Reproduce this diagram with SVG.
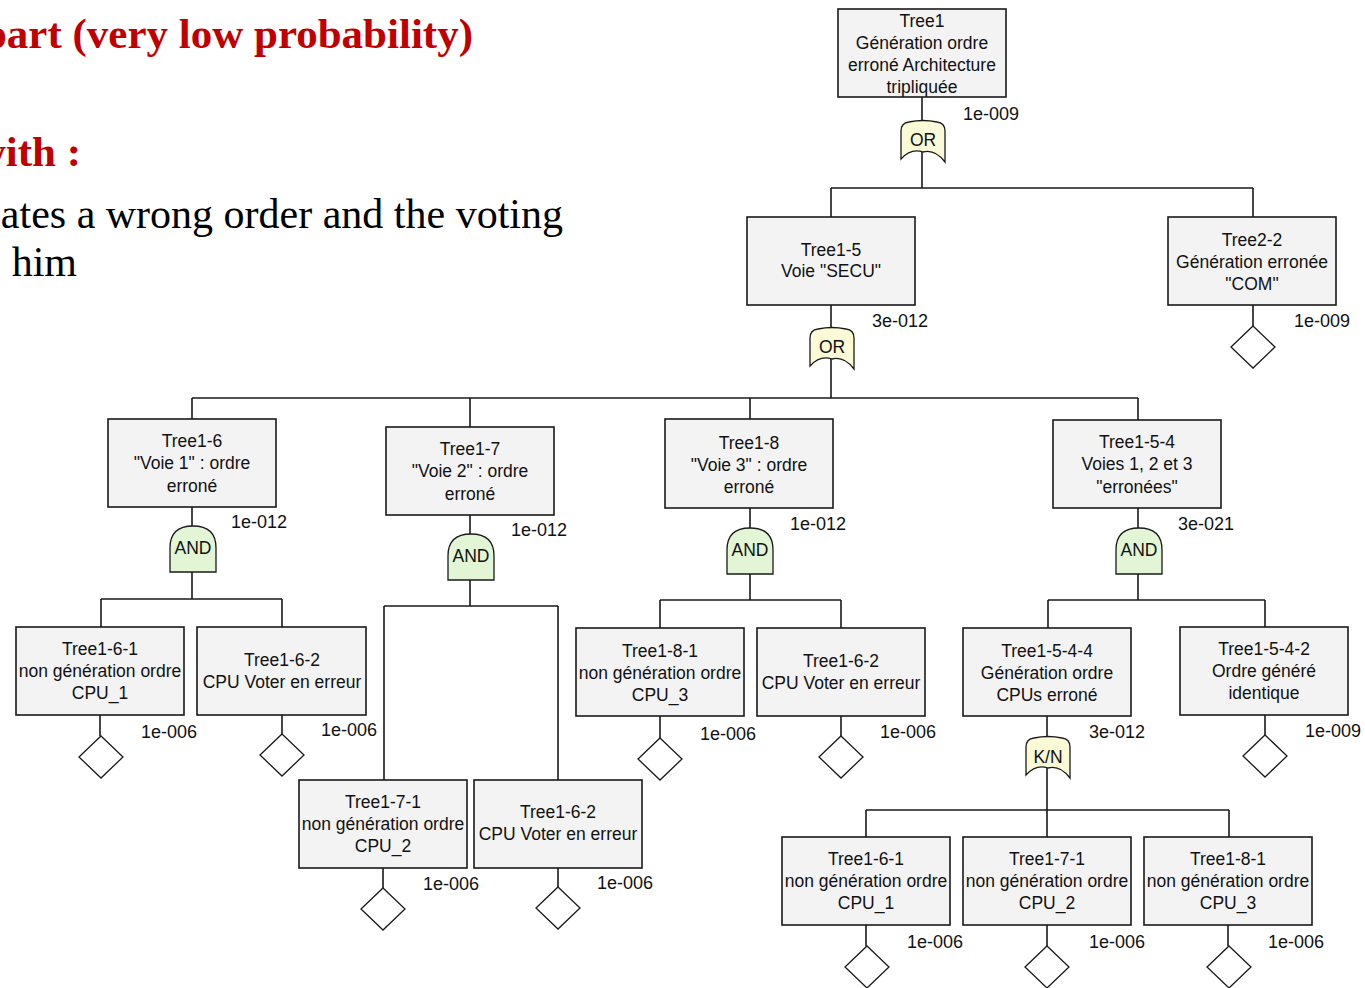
<svg xmlns="http://www.w3.org/2000/svg" width="1365" height="988" viewBox="0 0 1365 988">
<defs>
<style>
.bx{fill:#f3f3f3;stroke:#1a1a1a;stroke-width:1.6}
.t{font-family:"Liberation Sans",Arial,sans-serif;font-size:17.5px;fill:#111;text-anchor:middle}
.p{font-family:"Liberation Sans",Arial,sans-serif;font-size:18px;fill:#111}
.c{stroke:#1a1a1a;stroke-width:1.6;fill:none}
.or{fill:#fafad6;stroke:#1a1a1a;stroke-width:1.3}
.and{fill:#e2f5d4;stroke:#1a1a1a;stroke-width:1.3}
.dm{fill:#fff;stroke:#1a1a1a;stroke-width:1.3}
.h1{font-family:"Liberation Serif","Times New Roman",serif;font-size:43px;font-weight:bold;fill:#c00000}
.b1{font-family:"Liberation Serif","Times New Roman",serif;font-size:42px;fill:#000}
</style>
<path id="orG" d="M-22,38 L-22,10 Q-22,2 -14,1 Q0,-2 14,1 Q22,2 22,10 L22,41 Q12,28 0,31 Q-12,27 -22,38 Z"/>
<path id="andG" d="M-23,46 L-23,22 Q-23,0 0,0 Q23,0 23,22 L23,46 Z"/>
<path id="dia" d="M0,0 L22,21 L0,42 L-22,21 Z"/>
</defs>
<rect width="1365" height="988" fill="#fff"/>

<g id="slide-text">
<text class="h1" x="473" y="48" text-anchor="end">part (very low probability)</text>
<text class="h1" x="81" y="166" text-anchor="end">with :</text>
<text class="b1" x="563" y="228" text-anchor="end">ates a wrong order and the voting</text>
<text class="b1" x="77" y="276" text-anchor="end">him</text>
</g>

<g id="connectors" class="c">
<path d="M922,97 V188 M831,188 H1253 M831,188 V217 M1253,188 V217"/>
<path d="M831,305 V398 M192,398 H1138 M192,398 V419 M470,398 V427 M750,398 V419 M1138,398 V420"/>
<path d="M192,507 V599 M101,599 H282 M101,599 V627 M282,599 V627"/>
<path d="M470,515 V606 M384,606 H558 M384,606 V780 M558,606 V780"/>
<path d="M750,508 V600 M660,600 H841 M660,600 V628 M841,600 V628"/>
<path d="M1138,508 V600 M1048,600 H1265 M1048,600 V628 M1265,600 V627"/>
<path d="M1047,716 V810 M866,810 H1229 M866,810 V837 M1047,810 V837 M1229,810 V837"/>
<path d="M1253,305 V326 M100,715 V736 M282,715 V734 M383,868 V888 M558,868 V887 M660,716 V738 M841,716 V736 M1265,715 V735 M866,925 V946 M1047,925 V946 M1228,925 V946"/>
</g>

<g id="Tree1">
<rect class="bx" x="838" y="9" width="168" height="88"/>
<text class="t" x="922" y="27">Tree1</text>
<text class="t" x="922" y="49">Génération ordre</text>
<text class="t" x="922" y="71">erroné Architecture</text>
<text class="t" x="922" y="93">tripliquée</text>
<text class="p" x="963" y="120">1e-009</text>
<use href="#orG" class="or" x="923" y="121"/>
<text class="t" x="923" y="146">OR</text>
</g>

<g id="Tree1-5">
<rect class="bx" x="747" y="217" width="168" height="88"/>
<text class="t" x="831" y="256">Tree1-5</text>
<text class="t" x="831" y="277">Voie "SECU"</text>
<text class="p" x="872" y="327">3e-012</text>
<use href="#orG" class="or" x="832" y="328"/>
<text class="t" x="832" y="353">OR</text>
</g>

<g id="Tree2-2">
<rect class="bx" x="1168" y="217" width="168" height="88"/>
<text class="t" x="1252" y="246">Tree2-2</text>
<text class="t" x="1252" y="268">Génération erronée</text>
<text class="t" x="1252" y="290">"COM"</text>
<text class="p" x="1294" y="327">1e-009</text>
<use href="#dia" class="dm" x="1253" y="326"/>
</g>

<g id="Tree1-6">
<rect class="bx" x="108" y="419" width="168" height="88"/>
<text class="t" x="192" y="447">Tree1-6</text>
<text class="t" x="192" y="469">"Voie 1" : ordre</text>
<text class="t" x="192" y="492">erroné</text>
<text class="p" x="231" y="528">1e-012</text>
<use href="#andG" class="and" x="193" y="526"/>
<text class="t" x="193" y="554">AND</text>
</g>

<g id="Tree1-6-1">
<rect class="bx" x="16" y="627" width="168" height="88"/>
<text class="t" x="100" y="655">Tree1-6-1</text>
<text class="t" x="100" y="677">non génération ordre</text>
<text class="t" x="100" y="699">CPU_1</text>
<text class="p" x="141" y="738">1e-006</text>
<use href="#dia" class="dm" x="101" y="736"/>
</g>

<g id="Tree1-6-2">
<rect class="bx" x="197" y="627" width="169" height="88"/>
<text class="t" x="282" y="666">Tree1-6-2</text>
<text class="t" x="282" y="688">CPU Voter en erreur</text>
<text class="p" x="321" y="736">1e-006</text>
<use href="#dia" class="dm" x="282" y="734"/>
</g>

<g id="Tree1-7">
<rect class="bx" x="386" y="427" width="168" height="88"/>
<text class="t" x="470" y="455">Tree1-7</text>
<text class="t" x="470" y="477">"Voie 2" : ordre</text>
<text class="t" x="470" y="500">erroné</text>
<text class="p" x="511" y="536">1e-012</text>
<use href="#andG" class="and" x="471" y="534"/>
<text class="t" x="471" y="562">AND</text>
</g>

<g id="Tree1-7-1">
<rect class="bx" x="299" y="780" width="168" height="88"/>
<text class="t" x="383" y="808">Tree1-7-1</text>
<text class="t" x="383" y="830">non génération ordre</text>
<text class="t" x="383" y="852">CPU_2</text>
<text class="p" x="423" y="890">1e-006</text>
<use href="#dia" class="dm" x="383" y="888"/>
</g>

<g id="Tree1-6-2-b">
<rect class="bx" x="474" y="780" width="168" height="88"/>
<text class="t" x="558" y="818">Tree1-6-2</text>
<text class="t" x="558" y="840">CPU Voter en erreur</text>
<text class="p" x="597" y="889">1e-006</text>
<use href="#dia" class="dm" x="558" y="887"/>
</g>

<g id="Tree1-8">
<rect class="bx" x="665" y="419" width="168" height="89"/>
<text class="t" x="749" y="449">Tree1-8</text>
<text class="t" x="749" y="471">"Voie 3" : ordre</text>
<text class="t" x="749" y="493">erroné</text>
<text class="p" x="790" y="530">1e-012</text>
<use href="#andG" class="and" x="750" y="528"/>
<text class="t" x="750" y="556">AND</text>
</g>

<g id="Tree1-8-1">
<rect class="bx" x="576" y="628" width="168" height="88"/>
<text class="t" x="660" y="657">Tree1-8-1</text>
<text class="t" x="660" y="679">non génération ordre</text>
<text class="t" x="660" y="701">CPU_3</text>
<text class="p" x="700" y="740">1e-006</text>
<use href="#dia" class="dm" x="660" y="738"/>
</g>

<g id="Tree1-6-2-c">
<rect class="bx" x="757" y="628" width="168" height="88"/>
<text class="t" x="841" y="667">Tree1-6-2</text>
<text class="t" x="841" y="689">CPU Voter en erreur</text>
<text class="p" x="880" y="738">1e-006</text>
<use href="#dia" class="dm" x="841" y="736"/>
</g>

<g id="Tree1-5-4">
<rect class="bx" x="1053" y="420" width="168" height="88"/>
<text class="t" x="1137" y="448">Tree1-5-4</text>
<text class="t" x="1137" y="470">Voies 1, 2 et 3</text>
<text class="t" x="1137" y="493">"erronées"</text>
<text class="p" x="1178" y="530">3e-021</text>
<use href="#andG" class="and" x="1139" y="528"/>
<text class="t" x="1139" y="556">AND</text>
</g>

<g id="Tree1-5-4-4">
<rect class="bx" x="963" y="628" width="168" height="88"/>
<text class="t" x="1047" y="657">Tree1-5-4-4</text>
<text class="t" x="1047" y="679">Génération ordre</text>
<text class="t" x="1047" y="701">CPUs erroné</text>
<text class="p" x="1089" y="738">3e-012</text>
<use href="#orG" class="or" x="1048" y="737"/>
<text class="t" x="1048" y="763">K/N</text>
</g>

<g id="Tree1-5-4-2">
<rect class="bx" x="1180" y="627" width="168" height="88"/>
<text class="t" x="1264" y="655">Tree1-5-4-2</text>
<text class="t" x="1264" y="677">Ordre généré</text>
<text class="t" x="1264" y="699">identique</text>
<text class="p" x="1305" y="737">1e-009</text>
<use href="#dia" class="dm" x="1265" y="735"/>
</g>

<g id="Tree1-6-1-b">
<rect class="bx" x="782" y="837" width="168" height="88"/>
<text class="t" x="866" y="865">Tree1-6-1</text>
<text class="t" x="866" y="887">non génération ordre</text>
<text class="t" x="866" y="909">CPU_1</text>
<text class="p" x="907" y="948">1e-006</text>
<use href="#dia" class="dm" x="867" y="946"/>
</g>

<g id="Tree1-7-1-b">
<rect class="bx" x="963" y="837" width="168" height="88"/>
<text class="t" x="1047" y="865">Tree1-7-1</text>
<text class="t" x="1047" y="887">non génération ordre</text>
<text class="t" x="1047" y="909">CPU_2</text>
<text class="p" x="1089" y="948">1e-006</text>
<use href="#dia" class="dm" x="1047" y="946"/>
</g>

<g id="Tree1-8-1-b">
<rect class="bx" x="1144" y="837" width="168" height="88"/>
<text class="t" x="1228" y="865">Tree1-8-1</text>
<text class="t" x="1228" y="887">non génération ordre</text>
<text class="t" x="1228" y="909">CPU_3</text>
<text class="p" x="1268" y="948">1e-006</text>
<use href="#dia" class="dm" x="1229" y="946"/>
</g>
</svg>
